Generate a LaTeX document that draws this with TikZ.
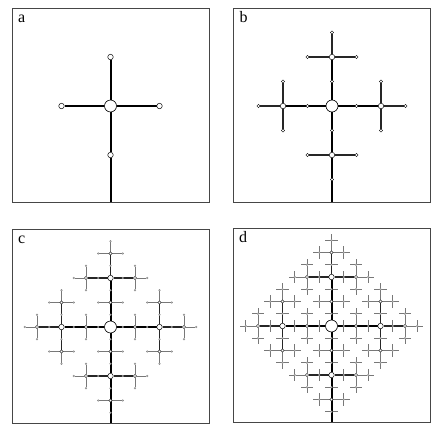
\documentclass[tikz,border=0pt]{standalone}
\usepackage{fontspec}
\setmainfont{Liberation Serif}
\usetikzlibrary{calc,positioning}

\pgfdeclarelayer{l3}\pgfdeclarelayer{l2}\pgfdeclarelayer{l1}\pgfdeclarelayer{l0}
\pgfsetlayers{l3,l2,l1,l0,main}

% one cross at node #1: arm length #2, arm level #3, end level #4, last level #5
\newcommand{\sprout}[5]{%
  \foreach \dir/\dx/\dy in {n/0/-1,e/1/0,s/0/1,w/-1/0}{
    \node[lvl#4] (#1\dir) at ($(#1)+(\dx*#2,\dy*#2)$) {};
    \expandafter\xdef\csname arms#3\endcsname{\csname arms#3\endcsname (#1) -- (#1\dir)}
  }%
  \ifnum#3<#5\relax
    \pgfmathsetmacro\half{#2/2}%
    \pgfmathtruncatemacro\deeper{#4+1}%
    \foreach \dir in {n,e,s,w}{%
      \edef\grow{\noexpand\sprout{#1\dir}{\half}{#4}{\deeper}{#5}}\grow}%
  \fi}

% all arms of one level, drawn on their own layer
\newcommand{\armlayer}[1]{%
  \expandafter\let\expandafter\segs\csname arms#1\endcsname
  \begin{pgfonlayer}{l#1}\draw[arm#1] \segs;\end{pgfonlayer}}

\newcommand{\panel}[4]{%
  \foreach \k in {0,...,3}{\expandafter\gdef\csname arms\k\endcsname{}}%
  \node[lvl0] (#1) at (#2) {};
  \draw[panelFrame] ($(#1)+(-98.5,-98)$) rectangle ($(#1)+(98.5,96)$);
  \node[panelTag] (#1tag) at ($(#1)+(-92.5,-84)$) {#4};
  \coordinate (#1root) at ($(#1)+(0,96)$);
  \sprout{#1}{49}{0}{1}{#3}
  \expandafter\xdef\csname arms0\endcsname{\csname arms0\endcsname (#1s) -- (#1root)}%
  \armlayer{0}\armlayer{1}\armlayer{2}\armlayer{3}}

\begin{document}
\begin{tikzpicture}[x=1pt,y=-1pt]
  \definecolor{frameGrey}{RGB}{70,70,70}
  \definecolor{twigGrey}{RGB}{120,120,120}
  \tikzstyle{panelFrame}=[draw=frameGrey, line width=0.9pt]
  \tikzstyle{panelTag}=[anchor=base west, inner sep=0pt, font=\fontsize{16}{16}\selectfont]
  \tikzstyle{lvl0}=[circle, draw, fill=white, line width=0.6pt, minimum size=12pt, inner sep=0pt]
  \tikzstyle{lvl1}=[circle, draw, fill=white, line width=0.5pt, minimum size=5.5pt, inner sep=0pt]
  \tikzstyle{lvl2}=[circle, draw, fill=white, line width=0.4pt, minimum size=3.4pt, inner sep=0pt]
  \tikzstyle{lvl3}=[circle, draw=twigGrey, fill=white, line width=0.3pt, minimum size=1.6pt, inner sep=0pt]
  \tikzstyle{lvl4}=[coordinate]
  \tikzstyle{arm0}=[line width=2pt, black]
  \tikzstyle{arm1}=[line width=1.3pt, black!85]
  \tikzstyle{arm2}=[line width=0.9pt, twigGrey]
  \tikzstyle{arm3}=[line width=0.7pt, twigGrey]

  \useasboundingbox (0,0) rectangle (436,440);

  \panel{a}{110.5,106}{0}{a}
  \panel{b}{332,106}{1}{b}
  \panel{c}{110.5,327}{2}{c}
  \panel{d}{331.5,326}{3}{d}
\end{tikzpicture}
\end{document}
